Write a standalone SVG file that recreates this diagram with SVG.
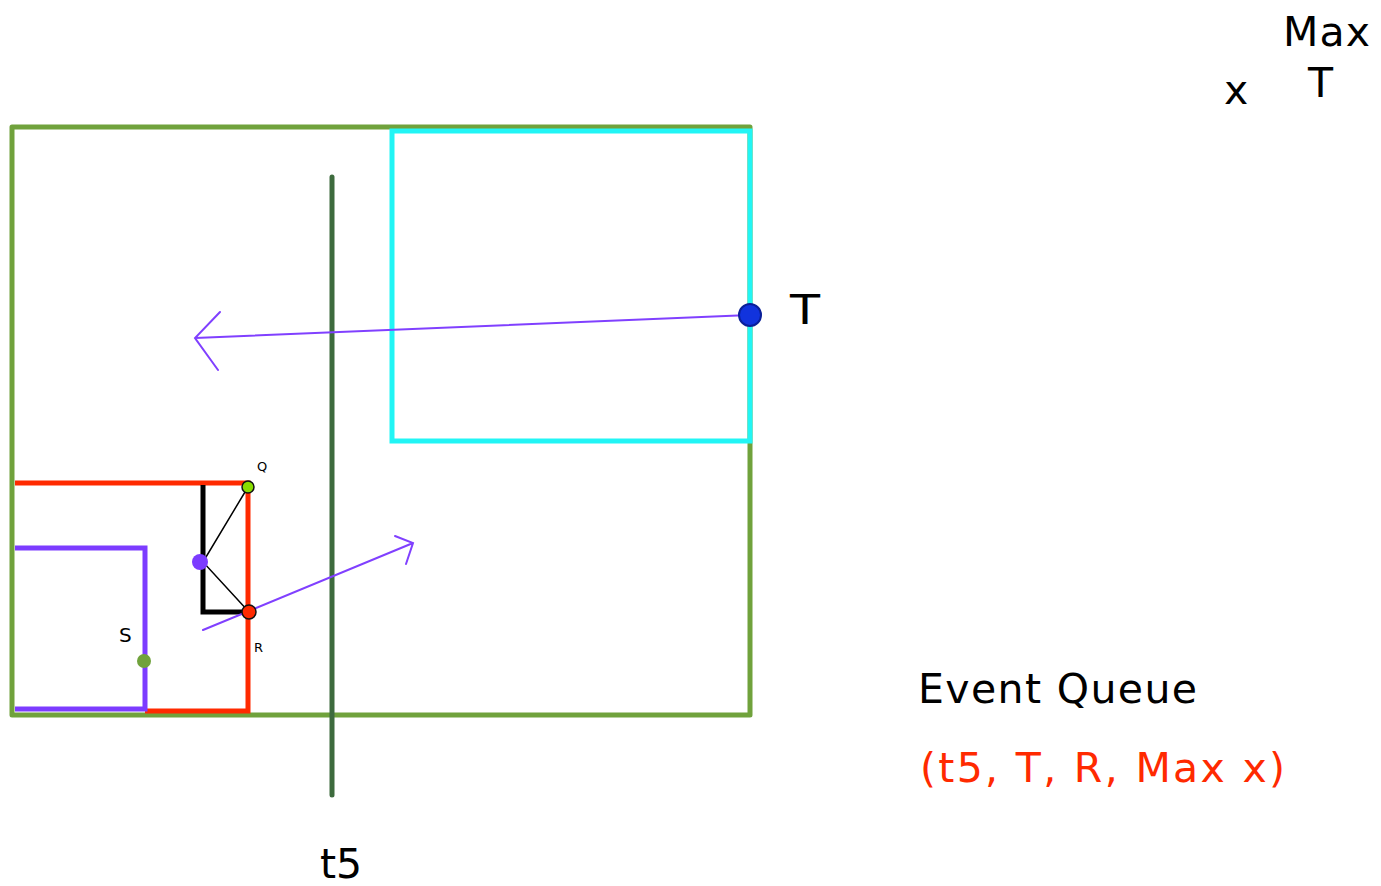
<svg xmlns="http://www.w3.org/2000/svg" width="1381" height="886" viewBox="0 0 1381 886">
<style>
text{font-family:"DejaVu Sans","Liberation Sans",sans-serif;fill:#000}
.big{font-size:41px}
.thin{fill:none;stroke:#8040ff;stroke-width:2;stroke-linecap:round}
</style>
<rect width="1381" height="886" fill="#fff"/>
<g id="outer"><rect x="12" y="127" width="738" height="588" fill="none" stroke="#70a23c" stroke-width="5" stroke-linejoin="round"/></g>
<g id="cyan"><rect x="392" y="131" width="358" height="310" fill="none" stroke="#22f5f5" stroke-width="5"/></g>
<g id="red"><path d="M15,483 H248 V711 H145" fill="none" stroke="#ff2a00" stroke-width="5"/></g>
<g id="purple"><path d="M15,548 H145 V709 H15" fill="none" stroke="#7c3cff" stroke-width="5"/></g>
<g id="sweep"><line x1="332" y1="177" x2="332" y2="795" stroke="#3d6b3d" stroke-width="5" stroke-linecap="round"/></g>
<g id="black"><path d="M203,485 V612 H248" fill="none" stroke="#000" stroke-width="5"/>
<path d="M248,487 L203,562 L249,612" fill="none" stroke="#000" stroke-width="1.5"/></g>
<g id="connectors">
<path class="thin" d="M750,315 L195,338 M220,312 L195,338 L218,370"/>
<path class="thin" d="M203,630 L413,543 M395,536 L413,543 L406,564"/>
</g>
<g id="dots">
<circle cx="750" cy="315" r="11" fill="#1133dd" stroke="#0a1f99" stroke-width="2"/>
<circle cx="248" cy="487" r="6" fill="#88dd00" stroke="#111" stroke-width="1.5"/>
<circle cx="249" cy="612" r="7" fill="#ff2a00" stroke="#111" stroke-width="1.5"/>
<circle cx="200" cy="562" r="8" fill="#7c3cff"/>
<circle cx="144" cy="661" r="7" fill="#70a23c"/>
</g>
<g id="labels">
<text x="257" y="471" font-size="13">Q</text>
<text x="254" y="652" font-size="13">R</text>
<text x="119" y="642" font-size="20">S</text>
<text x="790" y="324" class="big" textLength="30" lengthAdjust="spacingAndGlyphs">T</text>
<text x="320" y="878" class="big" textLength="42">t5</text>
<text x="1283" y="46" class="big" textLength="87">Max</text>
<text x="1308" y="97" class="big">T</text>
<text x="1224" y="104" class="big">x</text>
<text x="918" y="703" class="big" textLength="279">Event Queue</text>
<text x="920" y="782" class="big" style="fill:#ff2a00" textLength="365">(t5, T, R, Max x)</text>
</g>
</svg>
